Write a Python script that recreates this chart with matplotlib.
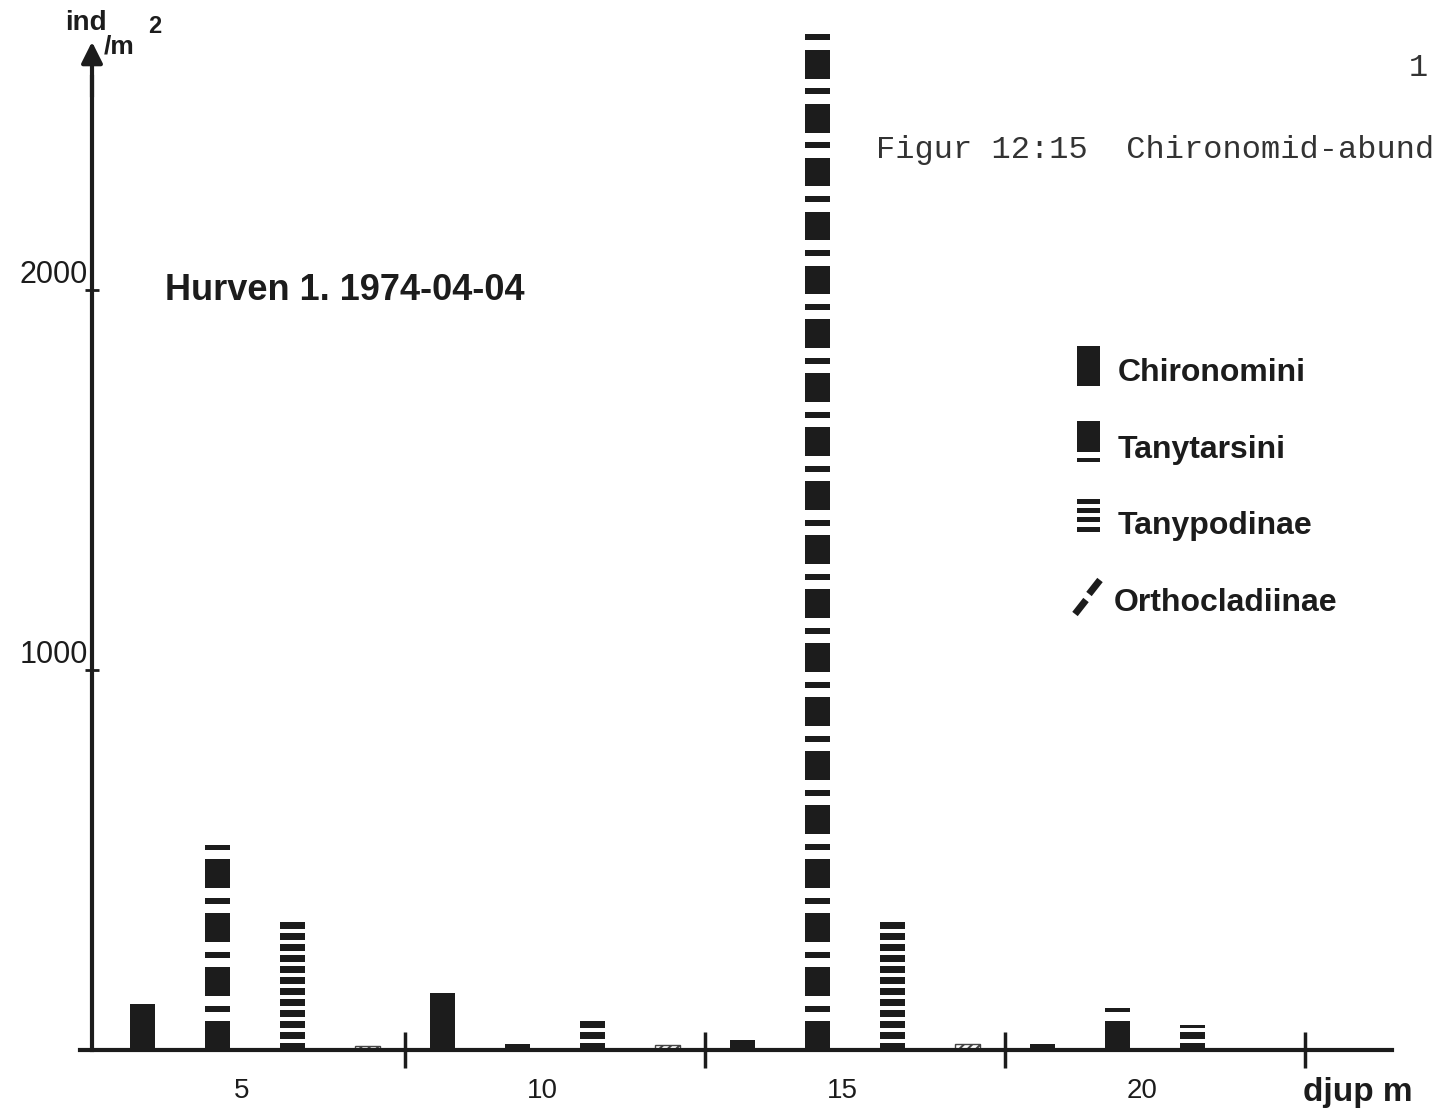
import matplotlib
matplotlib.use("Agg")
import matplotlib.pyplot as plt
import matplotlib.transforms as mtransforms
from matplotlib.patches import Rectangle
from matplotlib.lines import Line2D

plt.rcParams['font.family'] = ['Liberation Sans', 'DejaVu Sans']
plt.rcParams['hatch.linewidth'] = 1.5

# data: ind/m2 per depth group
djup = [5, 10, 15, 20]
chironomini = [120, 150, 25, 15]
tanytarsini = [540, 15, 2690, 110]
tanypodinae = [340, 85, 345, 65]
orthocladiinae = [10, 12, 15, 0]

y_ticks = [1000, 2000]
x_labels = ['5', '10', '15', '20']
x_marks = [7.5, 12.5, 17.5, 22.5]

W, H = 1432, 1118
INK = '#1c1c1c'

fig = plt.figure(figsize=(W / 100, H / 100), dpi=100)
# axes placed in pixel terms of the scan (60 px per metre)
ax = fig.add_axes([80 / W, 1 - 1050 / H, (1392 - 80) / W, (1050 - 20) / H])
ax.set_xlim(2.083, 23.95)
ax.set_ylim(0, 2710)

offs = [-1.875, -0.625, 0.625, 1.875]
bw = 0.42


def segments(value, pattern):
    # split one bar into filled pieces following a repeating pattern
    segs = []
    b = 0
    i = 0
    while b < value:
        h, filled = pattern[i % len(pattern)]
        if filled:
            segs.append((b, min(h, value - b)))
        b += h
        i += 1
    return segs


tany_pat = [(76, True), (25, False), (16, True), (25, False)]
pod_pat = [(18, True), (11, False)]

for i, d in enumerate(djup):
    # Chironomini - solid
    ax.bar(d + offs[0], chironomini[i], width=bw, color=INK)
    # Tanytarsini - block + thin stripe
    segs = segments(tanytarsini[i], tany_pat)
    ax.bar([d + offs[1]] * len(segs), [s[1] for s in segs],
           bottom=[s[0] for s in segs], width=bw, color=INK)
    # Tanypodinae - horizontal stripes
    segs = segments(tanypodinae[i], pod_pat)
    ax.bar([d + offs[2]] * len(segs), [s[1] for s in segs],
           bottom=[s[0] for s in segs], width=bw, color=INK)
    # Orthocladiinae - diagonal hatch
    if orthocladiinae[i] > 0:
        ax.bar(d + offs[3], orthocladiinae[i], width=bw, facecolor='white',
               edgecolor='#444444', hatch='////', lw=1)

# axes look
for s in ['top', 'right']:
    ax.spines[s].set_visible(False)
ax.spines['bottom'].set_linewidth(3)
ax.spines['bottom'].set_color(INK)
ax.spines['left'].set_position(('data', 2.283))
ax.spines['left'].set_linewidth(3)
ax.spines['left'].set_color(INK)
ax.spines['left'].set_bounds(0, 2560)
ax.annotate('', xy=(2.283, 2660), xytext=(2.283, 2500),
            arrowprops=dict(arrowstyle='-|>', lw=3, color=INK, mutation_scale=32))

ax.set_yticks(y_ticks)
ax.set_yticklabels([str(v) for v in y_ticks], fontsize=22)
ax.tick_params(axis='y', direction='inout', length=10, width=2, pad=-2, colors=INK)
for lbl in ax.get_yticklabels():
    lbl.set_va('bottom')

ax.set_xticks(djup)
ax.set_xticklabels(x_labels, fontsize=20)
ax.tick_params(axis='x', which='major', length=0, pad=20, colors=INK)
# the hand lettered numbers sit a little left of the group centre
shift = mtransforms.ScaledTranslation(-13 / 100, 0, fig.dpi_scale_trans)
for lbl in ax.get_xticklabels():
    lbl.set_transform(lbl.get_transform() + shift)
ax.set_xticks(x_marks, minor=True)
ax.tick_params(axis='x', which='minor', direction='inout', length=26, width=2.5, color=INK)

ax.text(22.47, -70, 'djup m', fontsize=24, fontweight='bold', color=INK,
        ha='left', va='top', clip_on=False)

# y axis unit label
fig.text(65 / W, 1 - 30 / H, 'ind', fontsize=20, fontweight='bold', color=INK, va='baseline')
fig.text(104 / W, 1 - 53 / H, '/m', fontsize=19, fontweight='bold', color=INK, va='baseline')
fig.text(148 / W, 1 - 33 / H, '2', fontsize=17, fontweight='bold', color=INK, va='baseline')

fig.text(165 / W, 1 - 290 / H, 'Hurven 1. 1974-04-04', fontsize=26, fontweight='bold',
         color=INK, va='center')

fig.text(876 / W, 1 - 150 / H, 'Figur 12:15  Chironomid-abund', fontsize=23,
         family='Liberation Mono', color='#333333', va='center')
fig.text(1418 / W, 1 - 68 / H, '1', fontsize=23, family='Liberation Mono',
         color='#333333', va='center', ha='center')


# legend drawn by hand like the original
def fbox(x0, y0, x1, y1):
    fig.add_artist(Rectangle((x0 / W, 1 - y1 / H), (x1 - x0) / W, (y1 - y0) / H,
                             transform=fig.transFigure, facecolor=INK, edgecolor='none'))


def fline(x0, y0, x1, y1, lw):
    fig.add_artist(Line2D([x0 / W, x1 / W], [1 - y0 / H, 1 - y1 / H],
                          transform=fig.transFigure, color=INK, lw=lw,
                          solid_capstyle='butt'))


fbox(1077, 346, 1100, 386)
fbox(1077, 421, 1100, 452)
fbox(1077, 458, 1100, 462)
for y0 in [499, 508, 517, 527]:
    fbox(1077, y0, 1100, y0 + 5)
fline(1075, 614, 1086, 600, 5)
fline(1089, 594, 1100, 580, 5)

leg_names = ['Chironomini', 'Tanytarsini', 'Tanypodinae', 'Orthocladiinae']
leg_y = [373, 450, 526, 603]
leg_x = [1118, 1118, 1118, 1114]
for name, yy, xx in zip(leg_names, leg_y, leg_x):
    fig.text(xx / W, 1 - yy / H, name, fontsize=23, fontweight='bold', color=INK, va='center')

fig.savefig('out.png', dpi=100, facecolor='white')
